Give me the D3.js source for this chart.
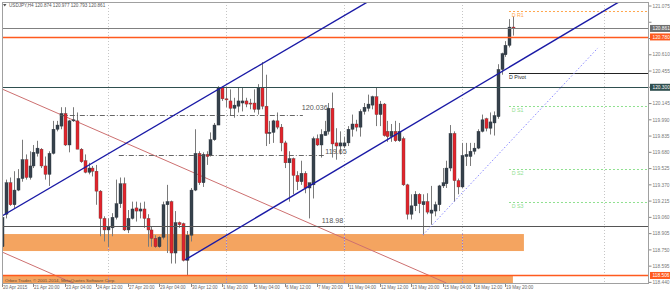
<!DOCTYPE html>
<html>
<head>
<meta charset="UTF-8">
<title>USDJPY H4</title>
<script src="https://d3js.org/d3.v7.min.js"></script>
<style>
  body { margin: 0; background: #fff; font-family: "Liberation Sans", Arial, sans-serif; }
  svg { display: block; }
</style>
</head>
<body>
<svg id="chart" width="670" height="292"></svg>
<script>
// H4 candles, first visible bar = 20 Apr 12:00
const opens = [118.78,119.09,119.39,119.18,119.32,119.43,119.61,119.44,119.55,119.67,
  119.71,119.55,119.47,119.67,119.90,119.93,120.05,119.75,119.98,119.98,
  119.71,119.60,119.49,119.53,119.50,119.31,119.05,118.94,118.96,119.06,
  119.19,119.38,118.94,119.05,119.15,119.12,119.14,119.05,118.94,118.86,
  118.78,118.87,119.18,119.21,118.72,119.01,119.00,118.65,118.89,119.32,
  119.67,119.39,119.66,119.65,119.80,119.94,120.30,120.19,120.17,120.10,
  120.12,120.15,120.17,120.15,120.15,120.09,120.30,120.12,119.86,119.87,
  119.98,119.92,119.77,119.58,119.62,119.46,119.40,119.48,119.34,119.37,
  119.81,119.75,119.84,119.88,120.10,119.77,119.74,119.74,119.77,119.90,
  119.95,119.92,120.07,120.10,120.13,120.21,120.04,120.14,119.88,119.83,
  119.88,119.79,119.81,119.37,119.09,119.17,119.28,119.18,119.21,119.10,
  119.12,119.18,119.36,119.38,119.53,119.86,119.41,119.35,119.64,119.64,
  119.69,119.72,119.88,120.00,119.91,119.96,120.02,120.47,120.61,120.70,
  120.874];
const highs = [119.15,119.42,119.44,119.50,119.52,119.80,119.66,119.69,119.75,119.79,
  119.72,119.64,119.69,119.98,119.98,120.11,120.11,119.99,120.11,120.06,
  119.72,119.66,119.58,119.55,119.56,119.32,119.07,119.05,119.10,119.42,
  119.44,119.44,119.13,119.21,119.21,119.20,119.21,119.09,118.97,118.89,
  118.88,119.21,119.37,119.22,119.12,119.02,119.01,118.93,119.34,119.90,
  119.69,119.68,119.69,119.87,119.96,120.31,120.30,120.30,120.28,120.20,
  120.30,120.30,120.20,120.19,120.28,120.33,120.54,120.42,119.98,119.99,
  120.06,119.95,119.79,119.69,119.63,119.50,119.60,119.50,119.39,119.83,
  119.85,119.90,119.98,120.15,120.25,119.91,119.88,119.83,119.93,120.04,
  119.99,120.09,120.15,120.23,120.22,120.30,120.17,120.15,119.98,119.95,
  119.98,119.96,119.83,119.38,119.28,119.31,119.29,119.28,119.29,119.36,
  119.21,119.37,119.53,119.60,119.94,119.88,119.43,119.77,119.77,119.77,
  119.77,119.90,120.04,120.01,120.06,120.07,120.52,120.63,120.74,120.95,
  120.977];
const lows = [118.73,119.05,119.17,119.15,119.31,119.40,119.42,119.42,119.53,119.64,
  119.53,119.42,119.36,119.66,119.88,119.90,119.74,119.68,119.97,119.71,
  119.58,119.48,119.47,119.45,119.18,118.88,118.83,118.78,118.88,119.04,
  119.15,118.93,118.91,119.04,119.02,119.05,118.96,118.78,118.78,118.77,
  118.77,118.85,118.72,118.62,118.62,118.96,118.64,118.51,118.83,119.31,
  119.37,119.35,119.56,119.64,119.79,119.94,120.17,120.11,120.03,120.01,
  120.06,120.07,120.11,120.09,120.06,120.04,120.09,119.74,119.76,119.77,
  119.90,119.69,119.53,119.21,119.28,119.32,119.37,119.29,119.05,119.24,
  119.74,119.63,119.84,119.85,119.63,119.61,119.66,119.72,119.74,119.83,
  119.88,119.83,120.04,120.07,120.09,119.93,119.93,119.83,119.78,119.78,
  119.78,119.78,119.36,119.04,119.04,119.12,119.10,118.89,119.09,118.99,
  119.07,119.12,119.34,119.34,119.50,119.21,119.28,119.34,119.55,119.55,
  119.66,119.71,119.87,119.88,119.85,119.84,120.00,120.42,120.59,120.68,
  120.793];
const closes = [119.06,119.39,119.18,119.32,119.43,119.61,119.44,119.55,119.68,119.72,
  119.55,119.47,119.67,119.90,119.94,120.05,119.75,119.98,119.99,119.71,
  119.59,119.49,119.53,119.50,119.31,119.05,118.94,118.97,119.06,119.19,
  119.38,118.94,119.05,119.14,119.12,119.14,119.05,118.94,118.86,118.78,
  118.87,119.18,119.21,118.72,119.01,118.99,118.65,118.89,119.32,119.67,
  119.39,119.66,119.64,119.80,119.94,120.30,120.19,120.18,120.10,120.13,
  120.17,120.17,120.14,120.14,120.09,120.30,120.12,119.86,119.87,119.98,
  119.92,119.77,119.58,119.62,119.46,119.40,119.48,119.34,119.39,119.81,
  119.75,119.85,119.88,120.10,119.76,119.74,119.77,119.77,119.90,119.95,
  119.92,120.07,120.11,120.14,120.21,120.04,120.14,119.84,119.83,119.88,
  119.79,119.88,119.37,119.09,119.17,119.28,119.19,119.21,119.11,119.13,
  119.18,119.36,119.39,119.53,119.86,119.41,119.35,119.65,119.66,119.69,
  119.72,119.88,119.99,119.91,119.97,120.03,120.47,120.62,120.70,120.874,
  120.861];

// time axis labels, one every 8 bars
const timeLabels = ["20 Apr 2015","21 Apr 20:00","23 Apr 04:00","24 Apr 12:00","27 Apr 20:00",
  "29 Apr 04:00","30 Apr 12:00","1 May 20:00","5 May 04:00","6 May 12:00","7 May 20:00",
  "11 May 04:00","12 May 12:00","13 May 20:00","15 May 04:00","18 May 12:00","19 May 20:00"];
const gridBars = [27, 57, 87, 117, 153];

const priceTicks = ["121.075","120.920","120.765","120.610","120.455","120.300","120.145",
  "119.990","119.835","119.680","119.525","119.370","119.215","119.060","118.905",
  "118.750","118.595","118.440"];

// horizontal levels across the whole chart
const levelPrices = [120.861, 120.780, 120.300, 118.980, 118.506];
// daily pivots
const pivotNames = ["D R1", "D Pivot", "D S1", "D S2", "D S3"];
const pivotPrices = [121.027, 120.434, 120.118, 119.525, 119.209];
// dash-dot levels with their text
const markPrices = [120.036, 119.65];
const markFrom = [14.7, 29.7];
const markTo = [76.5, 82.1];
// zones: [bar to, price top, price bottom]
const zones = [[132.7, 118.901, 118.739], [129.9, 118.506, 118.30]];
// trendlines: [bar1, price1, bar2, price2]
const channelLines = [[0, 119.073, 55.43, 120.290], [46.53, 118.654, 141.9, 120.780]];
const fanLine = [107.0, 118.892, 151.5, 120.675];
const brownLines = [[0, 120.284, 113, 118.434], [0, 118.73, 18, 118.434]];

const W = 670, H = 292;
const L = 2, R = 649, T = 2, B = 284;
const svg = d3.select("#chart");

const x = d3.scaleLinear().domain([0, 130]).range([2, 513.3]);
const y = d3.scaleLinear().domain([118.44, 121.075]).range([282.4, 6]);

svg.append("rect").attr("width", W).attr("height", H).attr("fill", "#fff");

svg.append("defs").append("clipPath").attr("id", "plot")
  .append("rect").attr("x", L).attr("y", T).attr("width", R - L).attr("height", B - T);

const plot = svg.append("g").attr("clip-path", "url(#plot)");

// zones (drawn as background)
zones.forEach(z => {
  plot.append("rect")
    .attr("x", L).attr("y", y(z[1]))
    .attr("width", x(z[0]) - L).attr("height", y(z[2]) - y(z[1]))
    .attr("fill", "#f4a460");
});

// vertical grid
gridBars.forEach(g => {
  const gx = Math.round(x(g)) + 0.5;
  plot.append("line").attr("x1", gx).attr("x2", gx).attr("y1", T).attr("y2", B)
    .attr("stroke", "#c6c6c6").attr("stroke-dasharray", "1,2");
  zones.forEach(z => {
    if (x(g) < x(z[0])) {
      plot.append("line").attr("x1", gx).attr("x2", gx)
        .attr("y1", y(z[1])).attr("y2", Math.min(B, y(z[2])))
        .attr("stroke", "#9a70d0").attr("stroke-dasharray", "1,2");
    }
  });
});

// brown lines
brownLines.forEach(l => {
  plot.append("line")
    .attr("x1", x(l[0])).attr("y1", y(l[1])).attr("x2", x(l[2])).attr("y2", y(l[3]))
    .attr("stroke", "#cd7070").attr("stroke-width", 1);
});

// candles
const idx = d3.range(opens.length);
const cg = plot.append("g");
idx.forEach(i => {
  const cx = Math.round(x(i));
  const o = opens[i], c = closes[i];
  const up = c >= o;
  cg.append("line")
    .attr("x1", cx + 0.5).attr("x2", cx + 0.5)
    .attr("y1", y(highs[i])).attr("y2", y(lows[i]))
    .attr("stroke", "#7a7a7a").attr("stroke-width", 1);
  const top = y(Math.max(o, c)), bot = y(Math.min(o, c));
  cg.append("rect")
    .attr("x", cx - 1).attr("y", top)
    .attr("width", 3).attr("height", Math.max(1, bot - top))
    .attr("fill", up ? "#36414c" : "#e3232b")
    .attr("stroke", up ? "#2a333c" : "#6a3a3a").attr("stroke-width", 0.4);
});

// full-width levels
const levelStyle = [
  { color: "#808080", w: 1 },
  { color: "#ff5a1e", w: 1.3 },
  { color: "#2f4f4f", w: 1 },
  { color: "#555555", w: 1.2 },
  { color: "#ff5a1e", w: 1.3 }
];
levelPrices.forEach((p, i) => {
  const ly = Math.round(y(p)) + 0.5;
  plot.append("line").attr("x1", L).attr("x2", R).attr("y1", ly).attr("y2", ly)
    .attr("stroke", levelStyle[i].color).attr("stroke-width", levelStyle[i].w);
});

// dash-dot marks
markPrices.forEach((p, i) => {
  const ly = Math.round(y(p)) + 0.5;
  plot.append("line").attr("x1", x(markFrom[i])).attr("x2", x(markTo[i]))
    .attr("y1", ly).attr("y2", ly)
    .attr("stroke", "#555").attr("stroke-width", 0.9).attr("stroke-dasharray", "5,2,1,2");
});
const markText = [
  { t: "120.036", b: 76.2, p: 120.036, dy: -4.5 },
  { t: "119.65", b: 82.2, p: 119.65, dy: -1.8 },
  { t: "118.98", b: 81.3, p: 118.98, dy: -3 }
];
markText.forEach(m => {
  plot.append("text").attr("x", x(m.b)).attr("y", y(m.p) + m.dy)
    .attr("font-size", 7.2).attr("fill", "#555").text(m.t);
});

// pivots
const pivotColor = ["#ffa64d", "#222222", "#8fe08f", "#8fe08f", "#8fe08f"];
pivotPrices.forEach((p, i) => {
  const ly = Math.round(y(p)) + 0.5;
  plot.append("line").attr("x1", x(128.9)).attr("x2", R).attr("y1", ly).attr("y2", ly)
    .attr("stroke", pivotColor[i]).attr("stroke-width", i === 1 ? 1.2 : 1)
    .attr("stroke-dasharray", i === 1 ? null : "2,2");
  plot.append("text").attr("x", x(i === 1 ? 128.9 : 129.6)).attr("y", ly + 5.5)
    .attr("font-size", 5.3).attr("fill", pivotColor[i]).text(pivotNames[i]);
});

// channel lines (rays to the right)
channelLines.forEach(l => {
  const s = (l[3] - l[1]) / (l[2] - l[0]);
  const bEnd = 170;
  plot.append("line")
    .attr("x1", x(l[0])).attr("y1", y(l[1]))
    .attr("x2", x(bEnd)).attr("y2", y(l[1] + s * (bEnd - l[0])))
    .attr("stroke", "#1a1aa6").attr("stroke-width", 1.4);
});
plot.append("line")
  .attr("x1", x(fanLine[0])).attr("y1", y(fanLine[1]))
  .attr("x2", x(fanLine[2])).attr("y2", y(fanLine[3]))
  .attr("stroke", "#8a8aff").attr("stroke-width", 1).attr("stroke-dasharray", "1.5,2");

// copyright text inside bottom zone
plot.append("text").attr("x", 5).attr("y", 281.5).attr("font-size", 4.4)
  .attr("fill", "#6a4a30").text("Orbex Trader, \u00a9 2001-2014, MetaQuotes Software Corp.");

// frame
svg.append("rect").attr("x", L + 0.5).attr("y", T + 0.5)
  .attr("width", R - L - 1).attr("height", B - T - 1)
  .attr("fill", "none").attr("stroke", "#a0a0a0");

// title
svg.append("path").attr("d", "M3,4 L6.5,4 L4.75,6.5 Z").attr("fill", "#555");
svg.append("text").attr("x", 9).attr("y", 7).attr("font-size", 4.6).attr("fill", "#555")
  .text("USDJPY,H4  120.874 120.977 120.793 120.861");

// price axis
const boxColor = ["#6e6e6e", "#ff5a1e", "#2f4f4f", null, "#ff5a1e"];
const boxed = levelPrices.filter((p, i) => boxColor[i]);
priceTicks.forEach(t => {
  const ty = y(+t);
  svg.append("line").attr("x1", R).attr("x2", R + 2.5).attr("y1", ty).attr("y2", ty)
    .attr("stroke", "#888");
  // labels hidden behind a price box are not shown
  if (boxed.some(p => Math.abs(y(p) - ty) < 6.5)) return;
  svg.append("text").attr("x", 652.5).attr("y", ty + 1.7).attr("font-size", 4.8)
    .attr("fill", "#777").text(t);
});
levelPrices.forEach((p, i) => {
  if (!boxColor[i]) return;
  const by = y(p);
  svg.append("rect").attr("x", 650).attr("y", by - 3.5).attr("width", 20).attr("height", 7)
    .attr("fill", boxColor[i]);
  svg.append("text").attr("x", 652.5).attr("y", by + 1.7).attr("font-size", 4.8)
    .attr("fill", "#fff").text(p.toFixed(3));
});

// time axis
timeLabels.forEach((t, i) => {
  const tx = Math.round(x(i * 8)) + 0.5;
  svg.append("line").attr("x1", tx).attr("x2", tx).attr("y1", B).attr("y2", B + 3)
    .attr("stroke", "#888");
  svg.append("text").attr("x", tx + 0.5).attr("y", 289).attr("font-size", 4.5)
    .attr("fill", "#666").text(t);
});
</script>
</body>
</html>
